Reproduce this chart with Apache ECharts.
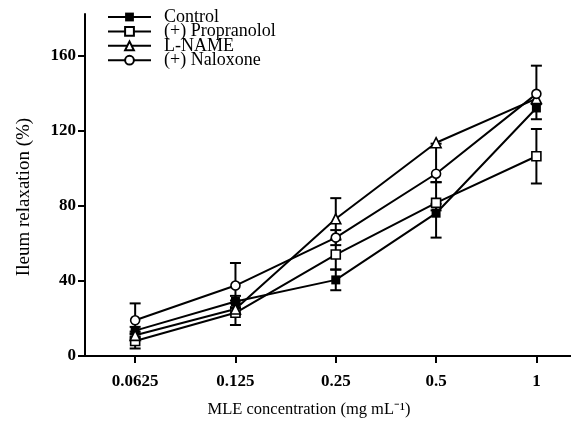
<!DOCTYPE html>
<html>
<head>
<meta charset="utf-8">
<script src="https://cdn.jsdelivr.net/npm/echarts@6/dist/echarts.min.js"></script>
<style>
  html, body { margin: 0; padding: 0; background: #fff; }
  #chart { width: 571px; height: 427px; }
</style>
</head>
<body>
<div id="chart"></div>
<script>
// MLE concentration (mg/mL) categories, placed at x = 0..4
const concLabels = ['0.0625', '0.125', '0.25', '0.5', '1'];
const yTicks = [0, 40, 80, 120, 160];

// mean ileum relaxation (%)
const control = [13.5, 29, 40.5, 76, 132];
const propranolol = [8, 23, 54, 81.5, 106.3];
const lname = [11, 25, 73, 113.5, 137];
const naloxone = [19, 37.5, 63, 97, 139.5];

// error bar lengths (below / above the mean), 0 = not drawn
const controlErrDown = [2, 3, 5.5, 13, 6];
const controlErrUp = [2, 3, 5.5, 5, 2];
const propranololErrDown = [4, 6.5, 8, 4, 14.5];
const propranololErrUp = [4, 6.5, 8, 11, 14.5];
const lnameErrDown = [2, 3, 11, 0, 0];
const lnameErrUp = [2, 3, 11, 0, 0];
const naloxoneErrDown = [9, 12, 4, 4.5, 0];
const naloxoneErrUp = [9, 12, 4, 16, 15];

const FONT = "'Liberation Serif', 'Times New Roman', serif";

const groups = [
  { name: 'Control', data: control, down: controlErrDown, up: controlErrUp, symbol: 'rect', fill: '#000' },
  { name: '(+) Propranolol', data: propranolol, down: propranololErrDown, up: propranololErrUp, symbol: 'rect', fill: '#fff' },
  { name: 'L-NAME', data: lname, down: lnameErrDown, up: lnameErrUp, symbol: 'triangle', fill: '#fff' },
  { name: '(+) Naloxone', data: naloxone, down: naloxoneErrDown, up: naloxoneErrUp, symbol: 'circle', fill: '#fff' }
];

// error bar rows: [x, low, high, mean]
let errData = [];
groups.forEach(g => {
  g.data.forEach((v, i) => {
    errData.push([i, v - g.down[i], v + g.up[i], v]);
  });
});

const chart = echarts.init(document.getElementById('chart'));

const lineSeries = groups.map(g => {
  return {
    name: g.name,
    type: 'line',
    z: 3,
    symbol: g.symbol,
    symbolSize: g.symbol === 'triangle' ? 10 : 9,
    lineStyle: { color: '#000', width: 2 },
    itemStyle: { color: g.fill, borderColor: '#000', borderWidth: g.fill === '#000' ? 0 : 1.6 },
    emphasis: { disabled: true },
    data: g.data.map((v, i) => [i, v])
  };
});

const errSeries = {
  type: 'custom',
  z: 2,
  silent: true,
  renderItem: (params, api) => {
    const x = api.value(0);
    const lo = api.value(1);
    const hi = api.value(2);
    const mean = api.value(3);
    const pLo = api.coord([x, lo]);
    const pHi = api.coord([x, hi]);
    const cap = 5.5;
    const style = { stroke: '#000', lineWidth: 2 };
    let children = [];
    if (hi > lo) {
      children.push({ type: 'line', shape: { x1: pLo[0], y1: pLo[1], x2: pHi[0], y2: pHi[1] }, style: style });
    }
    if (lo < mean) {
      children.push({ type: 'line', shape: { x1: pLo[0] - cap, y1: pLo[1], x2: pLo[0] + cap, y2: pLo[1] }, style: style });
    }
    if (hi > mean) {
      children.push({ type: 'line', shape: { x1: pHi[0] - cap, y1: pHi[1], x2: pHi[0] + cap, y2: pHi[1] }, style: style });
    }
    return { type: 'group', children: children };
  },
  data: errData
};

const option = {
  backgroundColor: '#fff',
  animation: false,
  grid: { left: 85, right: 0, top: 14, bottom: 71, containLabel: false },
  legend: {
    orient: 'vertical',
    left: 107,
    top: 8,
    padding: 0,
    itemWidth: 43,
    itemHeight: 11,
    itemGap: -3.6,
    selectedMode: false,
    textStyle: {
      fontFamily: FONT,
      fontSize: 18,
      color: '#000',
      padding: [0, 0, 0, 8]
    },
    data: groups.map(g => g.name)
  },
  xAxis: {
    type: 'value',
    min: -0.5,
    max: 4.345,
    splitLine: { show: false },
    axisLine: { lineStyle: { color: '#000', width: 2 } },
    axisTick: { length: 7, lineStyle: { color: '#000', width: 2 }, customValues: [0, 1, 2, 3, 4] },
    axisLabel: {
      customValues: [0, 1, 2, 3, 4],
      formatter: v => concLabels[Math.round(v)],
      margin: 17,
      color: '#000',
      fontFamily: FONT,
      fontSize: 17,
      fontWeight: 'bold'
    }
  },
  yAxis: {
    type: 'value',
    min: 0,
    max: 182,
    splitLine: { show: false },
    axisLine: { onZero: false, lineStyle: { color: '#000', width: 2 } },
    axisTick: { length: 7, lineStyle: { color: '#000', width: 2 }, customValues: yTicks },
    axisLabel: {
      customValues: yTicks,
      margin: 9,
      color: '#000',
      fontFamily: FONT,
      fontSize: 17,
      fontWeight: 'bold'
    }
  },
  graphic: [
    {
      type: 'text',
      x: 309,
      y: 410,
      style: {
        text: 'MLE concentration (mg mL⁻¹)',
        fontFamily: FONT,
        fontSize: 16.5,
        fill: '#000',
        align: 'center',
        verticalAlign: 'middle'
      }
    },
    {
      type: 'text',
      x: 24,
      y: 197,
      rotation: Math.PI / 2,
      style: {
        text: 'Ileum relaxation (%)',
        fontFamily: FONT,
        fontSize: 19,
        fill: '#000',
        align: 'center',
        verticalAlign: 'middle'
      }
    }
  ],
  series: [errSeries].concat(lineSeries)
};

chart.setOption(option);
</script>
</body>
</html>
